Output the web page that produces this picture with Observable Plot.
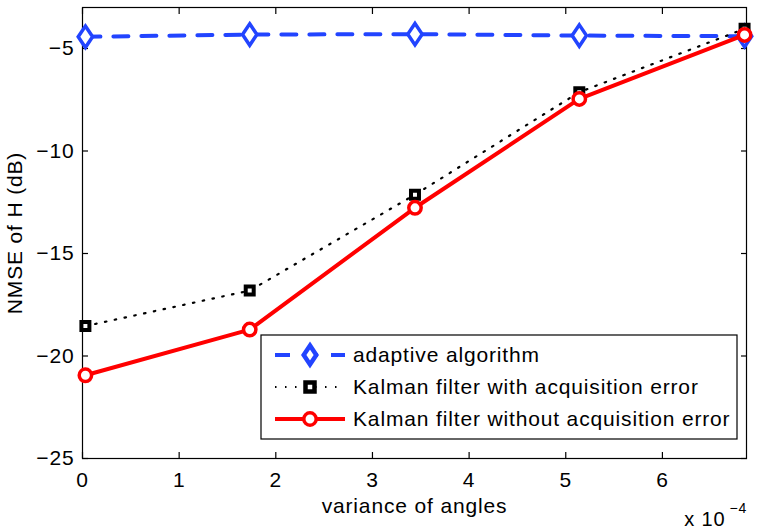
<!DOCTYPE html>
<html><head><meta charset="utf-8">
<script src="https://cdn.jsdelivr.net/npm/d3@7"></script>
<script src="https://cdn.jsdelivr.net/npm/@observablehq/plot@0.6"></script>
<style>
body{margin:0;background:#fff}
#chart svg{font-family:"Liberation Sans",Arial,sans-serif;overflow:visible}
</style>
</head><body><div id="chart"></div>
<script>
(function(){
// ---- data (x in units of 1e-4) ----
const xVals = [0.03, 1.73, 3.44, 5.14, 6.85];
const adaptive = [-4.43, -4.32, -4.30, -4.37, -4.40];
const kalmanWith = [-18.54, -16.81, -12.13, -7.13, -4.04];
const kalmanWithout = [-20.94, -18.71, -12.77, -7.46, -4.34];
const xTicks = [0, 1, 2, 3, 4, 5, 6];
const yTicks = [-25, -20, -15, -10, -5];
const seriesNames = ["adaptive algorithm", "Kalman filter with acquisition error", "Kalman filter without acquisition error"];
const xLabel = "variance of angles";
const yLabel = "NMSE of H (dB)";

const rows = xVals.map((x, i) => ({x, a: adaptive[i], kw: kalmanWith[i], ko: kalmanWithout[i]}));

const BLUE = "#2244ff", RED = "#ff0000", BLACK = "#000";
const FS = 21, LS = "0.85px";

const diamondSym = {draw(ctx, size) {
  const h = Math.sqrt(size / 1.34), w = 0.67 * h;
  ctx.moveTo(0, -h); ctx.lineTo(w, 0); ctx.lineTo(0, h); ctx.lineTo(-w, 0); ctx.closePath();
}};

const W = 764, H = 531, mL = 82, mR = 18, mT = 7, mB = 73;

const chart = Plot.plot({
  width: W, height: H,
  marginLeft: mL, marginRight: mR, marginTop: mT, marginBottom: mB,
  style: {fontFamily: "Liberation Sans, Arial, sans-serif", fontSize: FS + "px", letterSpacing: LS, color: "#000", background: "#fff", overflow: "visible"},
  x: {domain: [0, 6.87], label: null},
  y: {domain: [-25, -3], label: null},
  marks: [
    Plot.frame({stroke: BLACK, strokeWidth: 1.2}),
    Plot.axisX(xTicks, {anchor: "bottom", tickSize: -6, text: null, label: null, strokeWidth: 1.2}),
    Plot.axisX(xTicks, {anchor: "bottom", tickSize: 0, tickPadding: 14, label: null, fontSize: FS}),
    Plot.axisX(xTicks, {anchor: "top", tickSize: -6, text: null, label: null, strokeWidth: 1.2}),
    Plot.axisY(yTicks, {anchor: "left", tickSize: -6, text: null, label: null, strokeWidth: 1.2}),
    Plot.axisY(yTicks, {anchor: "left", tickSize: 0, tickPadding: 8, label: null, fontSize: FS}),
    Plot.axisY(yTicks, {anchor: "right", tickSize: -6, text: null, label: null, strokeWidth: 1.2}),
    Plot.text([xLabel], {frameAnchor: "bottom", lineAnchor: "middle", textAnchor: "middle", dy: 48, fontSize: FS}),
    Plot.text([yLabel], {frameAnchor: "left", lineAnchor: "middle", textAnchor: "middle", dx: -67.5, rotate: -90, fontSize: FS}),
    Plot.text(["x 10"], {frameAnchor: "bottom-right", lineAnchor: "middle", textAnchor: "end", dx: -21, dy: 61, fontSize: 20}),
    Plot.text(["\u22124"], {frameAnchor: "bottom-right", lineAnchor: "middle", textAnchor: "start", dx: -17, dy: 50, fontSize: 14}),
    // series
    Plot.line(rows, {x: "x", y: "a", stroke: BLUE, strokeWidth: 4, strokeDasharray: "15,13"}),
    Plot.dot(rows, {x: "x", y: "a", symbol: diamondSym, r: 7, stroke: BLUE, strokeWidth: 3.5, fill: "#fff"}),
    Plot.line(rows, {x: "x", y: "kw", stroke: BLACK, strokeWidth: 2.2, strokeDasharray: "1.5,8.5"}),
    Plot.dot(rows, {x: "x", y: "kw", symbol: "square", r: 4.5, stroke: BLACK, strokeWidth: 4, fill: "#fff"}),
    Plot.line(rows, {x: "x", y: "ko", stroke: RED, strokeWidth: 4}),
    Plot.dot(rows, {x: "x", y: "ko", symbol: "circle", r: 6.2, stroke: RED, strokeWidth: 3.5, fill: "#fff"})
  ]
});
document.getElementById("chart").appendChild(chart);

// ---- legend (inside plot, lower right) ----
const svg = d3.select(chart);
const lgRight = W - mR - 9, lgLeft = 261, lgBottom = H - mB - 19, lgTop = 335;
const lg = svg.append("g").attr("font-family", "Liberation Sans, Arial, sans-serif").attr("font-size", FS)
  .attr("letter-spacing", LS).attr("text-anchor", "start");
lg.append("rect").attr("x", lgLeft).attr("y", lgTop).attr("width", lgRight - lgLeft).attr("height", lgBottom - lgTop)
  .attr("fill", "#fff").attr("stroke", "#000").attr("stroke-width", 1.2);
const styles = [
  {stroke: BLUE, sw: 4, dash: "15,13", sym: "diamond"},
  {stroke: BLACK, sw: 2.2, dash: "1.5,8.5", sym: "square"},
  {stroke: RED, sw: 4, dash: null, sym: "circle"}
];
seriesNames.forEach((name, i) => {
  const cy = (lgTop + lgBottom) / 2 + (i - 1) * 32;
  const x0 = lgLeft + 14, x1 = lgLeft + 84, xm = (x0 + x1) / 2;
  const s = styles[i];
  const ln = lg.append("line").attr("x1", x0).attr("x2", x1).attr("y1", cy).attr("y2", cy)
    .attr("stroke", s.stroke).attr("stroke-width", s.sw);
  if (s.dash) ln.attr("stroke-dasharray", s.dash);
  if (s.sym === "diamond") {
    lg.append("path").attr("d", `M${xm},${cy - 9.5}L${xm + 6.3},${cy}L${xm},${cy + 9.5}L${xm - 6.3},${cy}Z`)
      .attr("fill", "#fff").attr("stroke", BLUE).attr("stroke-width", 4.5);
  } else if (s.sym === "square") {
    lg.append("rect").attr("x", xm - 4.5).attr("y", cy - 4.5).attr("width", 9).attr("height", 9)
      .attr("fill", "#fff").attr("stroke", BLACK).attr("stroke-width", 4.5);
  } else {
    lg.append("circle").attr("cx", xm).attr("cy", cy).attr("r", 6.2)
      .attr("fill", "#fff").attr("stroke", RED).attr("stroke-width", 3.5);
  }
  lg.append("text").attr("x", lgLeft + 92).attr("y", cy).attr("dy", "0.35em").attr("text-anchor", "start").text(name);
});
})();
</script>
</body></html>
